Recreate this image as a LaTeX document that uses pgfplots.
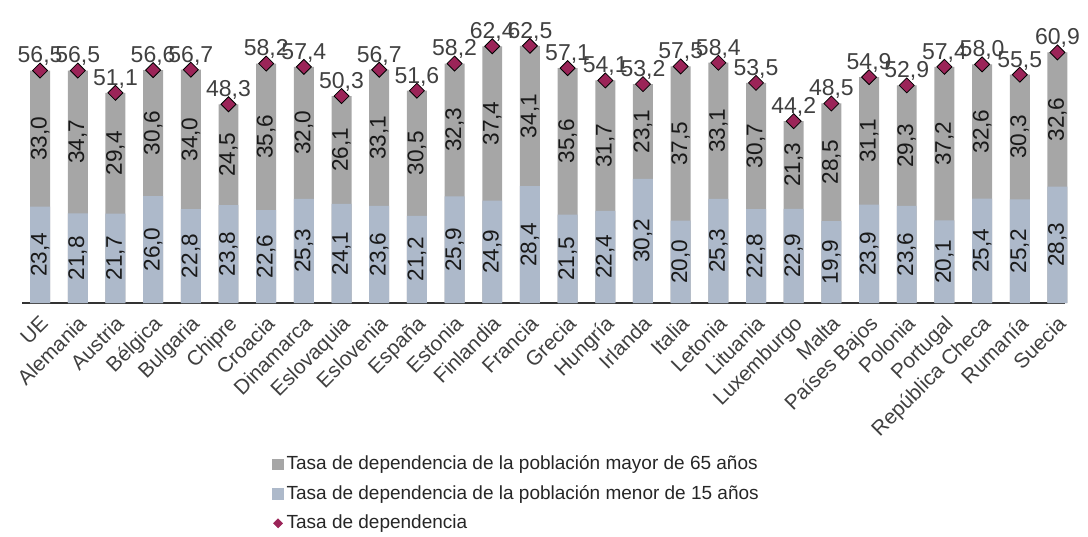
\documentclass[border=0pt]{standalone}
\usepackage{pgfplots}
\usepackage{pgfplotstable}
\pgfplotsset{compat=1.18}
\usepackage{fontspec}
\setmainfont{Liberation Sans}

\definecolor{mayor}{HTML}{A6A6A6}
\definecolor{menor}{HTML}{ADB9CA}
\definecolor{tasa}{HTML}{9B2458}
\definecolor{txt}{HTML}{404040}

% x: posicion; lo: menor de 15; hi: mayor de 65; tot: tasa de dependencia
\pgfplotstableread{
x lo hi tot
0 23.4 33.0 56.5
1 21.8 34.7 56.5
2 21.7 29.4 51.1
3 26.0 30.6 56.6
4 22.8 34.0 56.7
5 23.8 24.5 48.3
6 22.6 35.6 58.2
7 25.3 32.0 57.4
8 24.1 26.1 50.3
9 23.6 33.1 56.7
10 21.2 30.5 51.6
11 25.9 32.3 58.2
12 24.9 37.4 62.4
13 28.4 34.1 62.5
14 21.5 35.6 57.1
15 22.4 31.7 54.1
16 30.2 23.1 53.2
17 20.0 37.5 57.5
18 25.3 33.1 58.4
19 22.8 30.7 53.5
20 22.9 21.3 44.2
21 19.9 28.5 48.5
22 23.9 31.1 54.9
23 23.6 29.3 52.9
24 20.1 37.2 57.4
25 25.4 32.6 58.0
26 25.2 30.3 55.5
27 28.3 32.6 60.9
}\datos

\begin{document}
\begin{tikzpicture}
\useasboundingbox (-11pt,-116.5pt) rectangle (533pt,151.5pt);
\begin{axis}[
    scale only axis,
    width=521.5pt, height=144pt,
    xmin=-0.48, xmax=27.2,
    ymin=0, ymax=70,
    clip=false,
    axis x line*=bottom,
    axis y line=none,
    x axis line style={draw=black!80, line width=1pt},
    xtick={0,...,27},
    xticklabels={UE,Alemania,Austria,Bélgica,Bulgaria,Chipre,Croacia,Dinamarca,Eslovaquia,Eslovenia,España,Estonia,Finlandia,Francia,Grecia,Hungría,Irlanda,Italia,Letonia,Lituania,Luxemburgo,Malta,Países Bajos,Polonia,Portugal,República Checa,Rumanía,Suecia},
    xticklabel style={xshift=-0.5pt, yshift=-5.5pt, rotate=45, anchor=north east, inner sep=0pt,
        font=\fontsize{10.4}{12}\selectfont, text=txt},
    major tick length=0pt,
    /pgf/number format/.cd, fixed, fixed zerofill, precision=1, use comma, assume math mode=true,
    /pgfplots/.cd,
    legend style={at={(axis description cs:0.2397,-0.517)}, anchor=north west,
        draw=none, fill=none, font=\fontsize{9.5}{11}\selectfont, text=black!85,
        inner sep=0pt, row sep=2.5pt,
        nodes={inner sep=1.5pt, text height=0.72em, text depth=0.2em}},
    legend cell align=left,
]
% barra total (gris) y encima la parte de menores de 15 (azul)
\addplot[ybar, bar width=0.53, bar shift=0pt, fill=mayor, draw=none, forget plot]
    table[x=x, y=tot] {\datos};
\addplot[ybar, bar width=0.53, bar shift=0pt, fill=menor, draw=none, forget plot]
    table[x=x, y=lo] {\datos};
% etiquetas dentro de las barras
\addplot[draw=none, mark=none, forget plot, nodes near coords, point meta=explicit,
    every node near coord/.append style={rotate=90, anchor=center, font=\fontsize{11.3}{13}\selectfont, text=black!90}]
    table[x=x, y expr=\thisrow{lo}/2, meta=lo] {\datos};
\addplot[draw=none, mark=none, forget plot, nodes near coords, point meta=explicit,
    every node near coord/.append style={rotate=90, anchor=center, font=\fontsize{11.3}{13}\selectfont, text=black!90}]
    table[x=x, y expr=(\thisrow{lo}+\thisrow{tot})/2, meta=hi] {\datos};
% tasa de dependencia
\addplot[only marks, mark=square*, mark size=2.65pt, mark options={rotate=45, fill=tasa, draw=none},
    forget plot, nodes near coords, point meta=explicit,
    every node near coord/.append style={anchor=base, yshift=3.8pt, font=\fontsize{11.5}{13}\selectfont, text=txt}]
    table[x=x, y=tot, meta=tot] {\datos};

\addlegendimage{legend image code/.code={\fill[mayor] (0pt,-2.6pt) rectangle (5.2pt,2.6pt);}}
\addlegendentry{Tasa de dependencia de la población mayor de 65 años}
\addlegendimage{legend image code/.code={\fill[menor] (0pt,-2.6pt) rectangle (5.2pt,2.6pt);}}
\addlegendentry{Tasa de dependencia de la población menor de 15 años}
\addlegendimage{legend image code/.code={\fill[tasa] (2.6pt,-2.2pt) -- (4.8pt,0pt) -- (2.6pt,2.2pt) -- (0.4pt,0pt) -- cycle;}}
\addlegendentry{Tasa de dependencia}
\end{axis}
\end{tikzpicture}
\end{document}
